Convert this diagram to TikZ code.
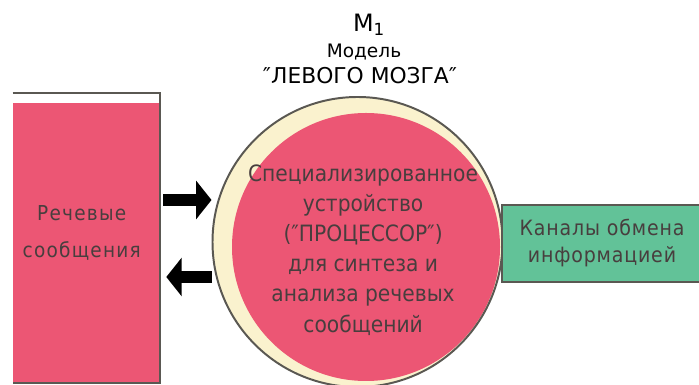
\documentclass[tikz,border=0pt]{standalone}
\usepackage{fontspec}
\setmainfont{DejaVu Sans Condensed}
\newfontfamily\widesans{DejaVu Sans}
\usetikzlibrary{arrows.meta, positioning}
\definecolor{rosa}{RGB}{236,86,116}
\definecolor{cream}{RGB}{250,242,206}
\definecolor{mint}{RGB}{98,194,152}
\definecolor{rim}{RGB}{90,88,82}
\definecolor{ink}{RGB}{72,62,62}
\tikzstyle{fatarrow} = [line width=8pt, -{Triangle[length=11pt, width=27pt]}, black]
\tikzstyle{rimline} = [draw=rim, line width=1.4pt]

\begin{document}
\begin{tikzpicture}[
    every node/.style={align=center, text=ink},
    body text/.style={font=\fontsize{16}{21.4}\selectfont},
    head text/.style={text=black, anchor=base}
]
\useasboundingbox (0,0) rectangle (17.475,9.625);

% Nodes
\node (speech) [minimum width=3.675cm, minimum height=7.25cm, inner sep=0pt,
    path picture={\fill[rosa] ([yshift=-0.25cm]path picture bounding box.north west)
        rectangle ([xshift=-0.03cm]path picture bounding box.south east);}]
    at (2.1625,3.675) {};
\draw [rimline] (speech.north west) -- (speech.north east) -- (speech.south east) -- (speech.south west);
\node (speechText) [font=\fontsize{14.6}{26.3}\selectfont\addfontfeature{LetterSpace=6}]
    at ([xshift=-0.12cm, yshift=0.12cm]speech.center) {Речевые\\сообщения};

\node (proc) [circle, rimline, fill=cream, minimum size=7.25cm, inner sep=0pt,
    path picture={\fill[rosa] ([xshift=0.2125cm, yshift=-0.125cm]path picture bounding box.center) circle (3.35cm);}]
    at (8.9375,3.575) {};
\node (procText) [body text] at ([xshift=0.14cm, yshift=-0.2cm]proc.center)
    {Специализированное\\устройство\\(″ПРОЦЕССОР″)\\для синтеза и\\анализа речевых\\сообщений};

\node (channels) [rimline, fill=mint, minimum width=5cm, minimum height=1.925cm,
    font=\fontsize{15}{19.2}\selectfont\addfontfeature{LetterSpace=4}]
    at (15.05,3.5375) {Каналы обмена\\информацией};

\node (title) [head text, font=\widesans\fontsize{17}{20}\selectfont] at (9.225,8.825) {M\textsubscript{1}};
\node (subtitle) [head text, font=\widesans\fontsize{13.2}{16}\selectfont] at (9.1,8.175) {Модель};
\node (brain) [head text, font=\widesans\fontsize{15.5}{18}\selectfont] at (9.0,7.525) {″ЛЕВОГО МОЗГА″};

% Arrows
\coordinate (inR) at ([xshift=0.075cm, yshift=0.95cm]speech.east);
\coordinate (outL) at ([xshift=0.15cm, yshift=-0.975cm]speech.east);
\draw [fatarrow] (inR) -- (inR -| proc.west);
\draw [fatarrow] (outL -| proc.west) -- (outL);

\end{tikzpicture}
\end{document}
